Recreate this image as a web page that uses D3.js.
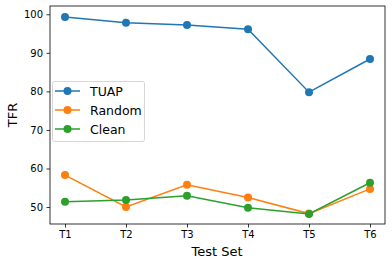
<!DOCTYPE html>
<html><head><meta charset="utf-8">
<script src="https://cdn.jsdelivr.net/npm/d3@7"></script>
<style>body{margin:0;background:#fff}text{font-family:"DejaVu Sans",sans-serif}</style>
</head><body>
<svg id="c" width="392" height="265"></svg>
<script>
const categories = ["T1","T2","T3","T4","T5","T6"];
const tuap = [99.3, 97.8, 97.2, 96.1, 79.8, 88.4];
const random = [58.3, 50.0, 55.8, 52.5, 48.3, 54.7];
const clean = [51.4, 51.8, 52.9, 49.8, 48.2, 56.3];
const yTicks = [50, 60, 70, 80, 90, 100];
const seriesNames = ["TUAP","Random","Clean"];
const colors = ["#1f77b4","#ff7f0e","#2ca02c"];

const svg = d3.select("#c");
const L=50, R=385, T=6, B=224;
const x = d3.scalePoint().domain(categories).range([65,370]);
const y = d3.scaleLinear().domain([45.6,102.15]).range([B,T]);

const xa = svg.append("g").attr("transform",`translate(0,${B})`)
  .call(d3.axisBottom(x).tickSize(3.5).tickPadding(3.5));
const ya = svg.append("g").attr("transform",`translate(${L},0)`)
  .call(d3.axisLeft(y).tickValues(yTicks).tickSize(3.5).tickPadding(3.5));
[xa,ya].forEach(a=>{a.select(".domain").remove();a.selectAll("text").attr("font-size",10).attr("fill","#000").attr("font-family","DejaVu Sans");a.selectAll("line").attr("stroke","#000").attr("stroke-width",0.8);});

svg.append("rect").attr("x",L).attr("y",T).attr("width",R-L).attr("height",B-T)
  .attr("fill","none").attr("stroke","#000").attr("stroke-width",0.8);

const data=[tuap,random,clean];
const line=d3.line().x((d,i)=>x(categories[i])).y(d=>y(d));
data.forEach((s,k)=>{
  svg.append("path").datum(s).attr("d",line).attr("fill","none").attr("stroke",colors[k]).attr("stroke-width",1.5);
  svg.append("g").selectAll("circle").data(s).join("circle")
    .attr("cx",(d,i)=>x(categories[i])).attr("cy",d=>y(d)).attr("r",4).attr("fill",colors[k]);
});

// legend
const lg=svg.append("g");
lg.append("rect").attr("x",52.5).attr("y",81.5).attr("width",92).attr("height",60).attr("rx",2)
  .attr("fill","#fff").attr("fill-opacity",0.8).attr("stroke","#ccc").attr("stroke-width",0.8);
seriesNames.forEach((n,k)=>{
  const yy=91+k*19;
  lg.append("line").attr("x1",55).attr("x2",80).attr("y1",yy).attr("y2",yy).attr("stroke",colors[k]).attr("stroke-width",1.5);
  lg.append("circle").attr("cx",67.5).attr("cy",yy).attr("r",4).attr("fill",colors[k]);
  lg.append("text").attr("x",90).attr("y",yy).attr("dy","0.36em").attr("font-size",12.5).text(n);
});

svg.append("text").attr("x",217).attr("y",256).attr("text-anchor","middle").attr("font-size",13).text("Test Set");
svg.append("text").attr("transform","translate(17,115) rotate(-90)").attr("text-anchor","middle").attr("font-size",13).text("TFR");
</script>
</body></html>
